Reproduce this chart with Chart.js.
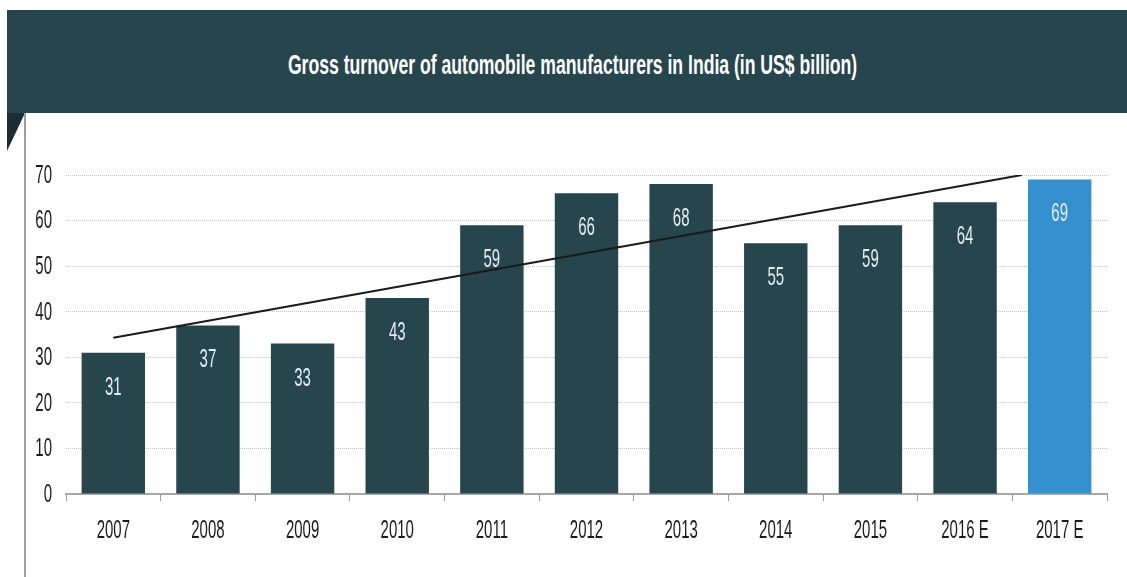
<!DOCTYPE html>
<html>
<head>
<meta charset="utf-8">
<script src="https://cdn.jsdelivr.net/npm/chart.js@4"></script>
<style>
  html, body { margin: 0; padding: 0; background: #fff; }
  body { width: 1127px; height: 577px; position: relative; overflow: hidden; }
  #head {
    position: absolute; left: 7px; top: 10px; width: 1120px; height: 103px;
    background: #27454d; color: #fff; text-align: center;
  }
  #head span {
    display: inline-block; margin-top: 40px; margin-left: 12px;
    font: bold 27px 'Liberation Sans', Arial, sans-serif;
    transform: scaleX(0.652); transform-origin: center; white-space: nowrap;
  }
  #fold {
    position: absolute; left: 7px; top: 113px; width: 0; height: 0;
    border-left: 18px solid #1b2d32; border-bottom: 38px solid transparent;
  }
  #side { position: absolute; left: 24px; top: 113px; width: 2px; height: 464px; background: #95a3a7; }
  #box { position: absolute; left: 0; top: 113px; width: 1127px; height: 464px; }
</style>
</head>
<body>
<div id="head"><span>Gross turnover of automobile manufacturers in India (in US$ billion)</span></div>
<div id="fold"></div>
<div id="side"></div>
<div id="box"><canvas id="turnoverChart" width="1127" height="464"></canvas></div>
<script>
const years = ['2007', '2008', '2009', '2010', '2011', '2012', '2013', '2014', '2015', '2016 E', '2017 E'];
const turnover = [31, 37, 33, 43, 59, 66, 68, 55, 59, 64, 69];
const barColors = ['#27454d', '#27454d', '#27454d', '#27454d', '#27454d', '#27454d', '#27454d', '#27454d', '#27454d', '#27454d', '#3590d0'];
const yTicks = [0, 10, 20, 30, 40, 50, 60, 70];
// trend line: start and end (category index, value)
const trendX = [0, 9.6];
const trendY = [34.3, 70];

const FONT = "25px 'Liberation Sans', Arial, sans-serif";
const SQUEEZE = 0.6;

// the source uses a very condensed face, so text is squeezed horizontally
function narrowText(ctx, text, x, y, align) {
    ctx.save();
    ctx.translate(x, y);
    ctx.scale(SQUEEZE, 1);
    ctx.textAlign = align;
    ctx.textBaseline = 'middle';
    ctx.font = FONT;
    ctx.fillText(text, 0, 0);
    ctx.restore();
}

const narrowLabels = {
    id: 'narrowLabels',
    afterDraw(chart) {
        const { ctx, scales } = chart;
        ctx.save();
        ctx.fillStyle = '#1a1a1a';
        scales.y.ticks.forEach(t => {
            narrowText(ctx, String(t.value), 52, scales.y.getPixelForValue(t.value) + 1, 'right');
        });
        years.forEach((lab, i) => {
            narrowText(ctx, lab, scales.x.getPixelForValue(i), scales.x.bottom - 46, 'center');
        });
        ctx.fillStyle = '#e4eef2';
        chart.getDatasetMeta(1).data.forEach((bar, i) => {
            narrowText(ctx, String(turnover[i]), bar.x, bar.y + 35, 'center');
        });
        ctx.restore();
    }
};

new Chart(document.getElementById('turnoverChart'), {
    data: {
        labels: years,
        datasets: [
            {
                type: 'line',
                data: trendX.map((x, i) => ({ x, y: trendY[i] })),
                xAxisID: 'xt',
                borderColor: '#1a1a1a',
                borderWidth: 2,
                pointRadius: 0,
                order: 0
            },
            {
                type: 'bar',
                data: turnover,
                backgroundColor: barColors,
                barPercentage: 0.67,
                categoryPercentage: 1,
                grouped: false,
                order: 1
            }
        ]
    },
    options: {
        responsive: false,
        animation: false,
        devicePixelRatio: 1,
        layout: { padding: { top: 62, right: 20, left: 0, bottom: 0 } },
        plugins: { legend: { display: false }, tooltip: { enabled: false } },
        scales: {
            x: {
                type: 'category',
                grid: { display: true, drawOnChartArea: false, drawTicks: true, tickLength: 7, color: '#9a9a9a', offset: true },
                border: { display: true, color: '#a8a8a8', width: 2 },
                ticks: { color: 'rgba(0,0,0,0)', autoSkip: false, maxRotation: 0, font: { size: 12 } },
                afterFit(scale) { scale.height = 83; }
            },
            xt: {
                type: 'linear',
                display: false,
                min: -0.5,
                max: 10.5
            },
            y: {
                min: 0,
                max: 70,
                afterBuildTicks(scale) { scale.ticks = yTicks.map(v => ({ value: v })); },
                grid: { color: '#c4c4c4', lineWidth: 1, drawTicks: false },
                border: { display: false, dash: [1, 1] },
                ticks: { color: 'rgba(0,0,0,0)', font: { size: 12 } },
                afterFit(scale) { scale.width = 66; }
            }
        }
    },
    plugins: [narrowLabels]
});
</script>
</body>
</html>
